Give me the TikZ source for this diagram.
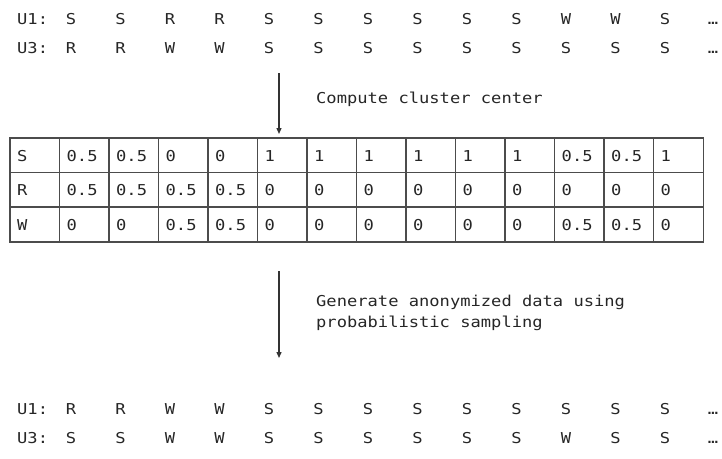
\documentclass[tikz,border=0pt]{standalone}
\usepackage{fontspec}
\newfontfamily\monofnt[FakeStretch=1.14]{DejaVu Sans Mono}
\usetikzlibrary{arrows.meta}
\begin{document}
\begin{tikzpicture}[x=1pt,y=-1pt,
  mtxt/.style={font=\monofnt\fontsize{15}{18}\selectfont, text=black!85, inner sep=0pt},
  lbl/.style={mtxt, anchor=base west},
  seq/.style={mtxt, anchor=base},
  gridline/.style={draw=black!70, line width=1.2pt},
  flow/.style={draw=black!80, line width=1.3pt, -{Triangle[width=5pt,length=6pt]}}]
\useasboundingbox (0,0) rectangle (722,458);

% ---------- sequences (top) ----------
\node[lbl] (tu1) at (17,24) {U1:};
\node[lbl] (tu3) at (17,53) {U3:};
\foreach \c [count=\i] in {S,S,R,R,S,S,S,S,S,S,W,W,S}
  \node[seq, name=ta\i] at (21.5+49.5*\i,24) {\c};
\foreach \c [count=\i] in {R,R,W,W,S,S,S,S,S,S,S,S,S}
  \node[seq, name=tb\i] at (21.5+49.5*\i,53) {\c};
\node[seq] (tae) at (713,24) {…};
\node[seq] (tbe) at (713,53) {…};

% ---------- first arrow ----------
\coordinate (a1s) at (279,73);
\node[draw=none, minimum width=693pt, minimum height=103.5pt, inner sep=0pt, anchor=north west] (table) at (10,138) {};
\draw[flow, shorten >=4pt] (a1s) -- (a1s |- table.north);
\node[lbl] (cc) at (316,103) {Compute cluster center};

% ---------- table ----------
\draw[gridline] (table.north west) rectangle (table.south east);
\foreach \r in {1,2}
  \draw[gridline] (10,138+34.5*\r) -- (703,138+34.5*\r);
\foreach \i in {1,...,13}
  \draw[gridline] (10+49.5*\i,138) -- (10+49.5*\i,241.5);

\node[lbl] (rs) at (17,161) {S};
\node[lbl] (rr) at (17,195.5) {R};
\node[lbl] (rw) at (17,230) {W};
\foreach \v [count=\i] in {0.5,0.5,0,0,1,1,1,1,1,1,0.5,0.5,1}
  \node[lbl, name=cs\i] at (17+49.5*\i,161) {\v};
\foreach \v [count=\i] in {0.5,0.5,0.5,0.5,0,0,0,0,0,0,0,0,0}
  \node[lbl, name=cr\i] at (17+49.5*\i,195.5) {\v};
\foreach \v [count=\i] in {0,0,0.5,0.5,0,0,0,0,0,0,0.5,0.5,0}
  \node[lbl, name=cw\i] at (17+49.5*\i,230) {\v};

% ---------- second arrow ----------
\coordinate (a2s) at (279,271);
\coordinate (a2e) at (279,358);
\draw[flow] (a2s) -- (a2e);
\node[lbl] (g1) at (316,306) {Generate anonymized data using};
\node[lbl] (g2) at (316,327) {probabilistic sampling};

% ---------- sequences (bottom) ----------
\node[lbl] (bu1) at (17,414) {U1:};
\node[lbl] (bu3) at (17,443) {U3:};
\foreach \c [count=\i] in {R,R,W,W,S,S,S,S,S,S,S,S,S}
  \node[seq, name=ba\i] at (21.5+49.5*\i,414) {\c};
\foreach \c [count=\i] in {S,S,W,W,S,S,S,S,S,S,W,S,S}
  \node[seq, name=bb\i] at (21.5+49.5*\i,443) {\c};
\node[seq] (bae) at (713,414) {…};
\node[seq] (bbe) at (713,443) {…};
\end{tikzpicture}
\end{document}
